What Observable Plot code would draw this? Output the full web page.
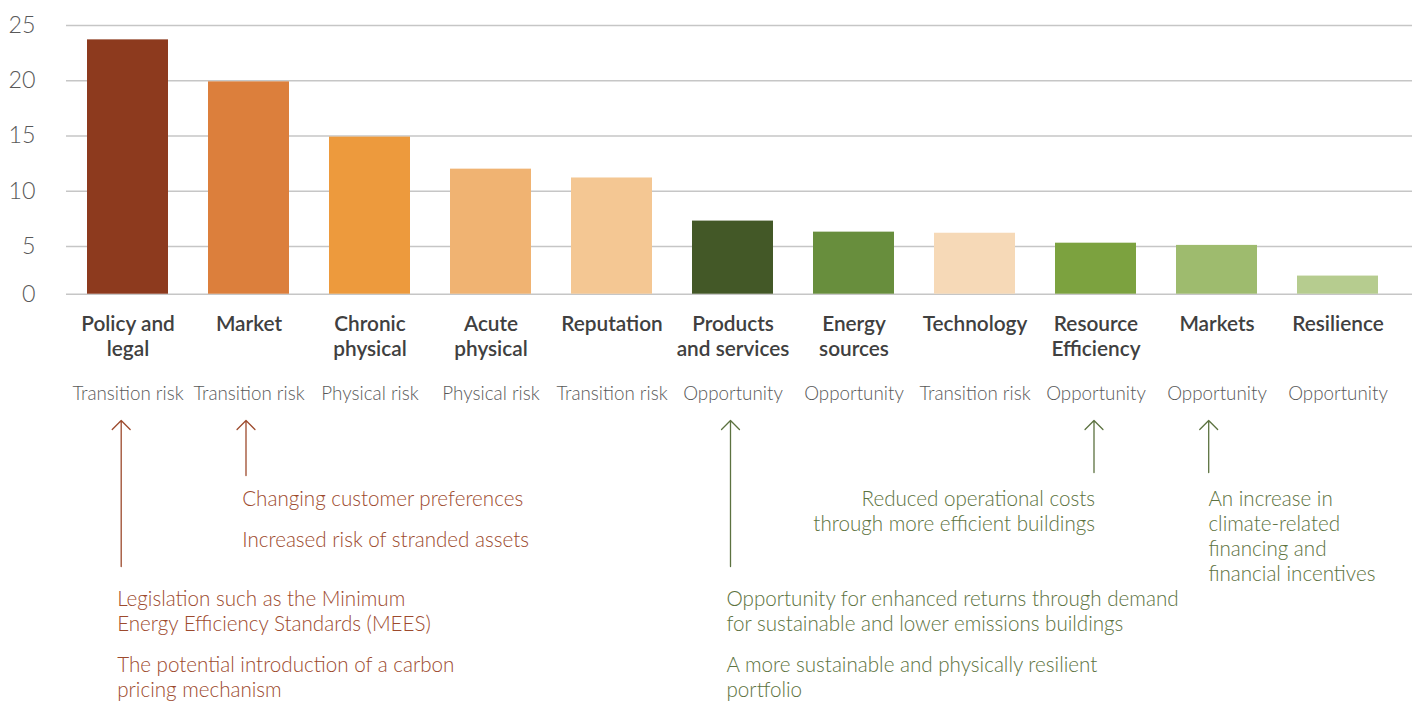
<!DOCTYPE html>
<html><head><meta charset="utf-8">
<script src="https://cdn.jsdelivr.net/npm/d3@7"></script>
<script src="https://cdn.jsdelivr.net/npm/@observablehq/plot@0.6"></script>
<style>body{margin:0;background:#fff;}</style>
</head><body>
<div id="chart"></div>
<script>
// ---- data ----
const categories = ["Policy and\nlegal", "Market", "Chronic\nphysical", "Acute\nphysical", "Reputation",
  "Products\nand services", "Energy\nsources", "Technology", "Resource\nEfficiency", "Markets", "Resilience"];
const values = [23.7, 19.9, 14.9, 12.0, 11.2, 7.3, 6.3, 6.2, 5.3, 5.1, 1.9];
const riskTypes = ["Transition risk", "Transition risk", "Physical risk", "Physical risk", "Transition risk",
  "Opportunity", "Opportunity", "Transition risk", "Opportunity", "Opportunity", "Opportunity"];
const barColors = ["#8d3a1e", "#dc7f3c", "#ed9a3d", "#f0b372", "#f4c793",
  "#435827", "#688e3d", "#f6d9b7", "#7ca23f", "#9ebb6e", "#b6cc8f"];
const yTicks = [0, 5, 10, 15, 20, 25];

const annCategories = ["Policy and\nlegal", "Market", "Products\nand services", "Resource\nEfficiency", "Markets"];
const annKinds = ["risk", "risk", "opportunity", "opportunity", "opportunity"];
const annTexts = [
  ["Legislation such as the Minimum\nEnergy Efficiency Standards (MEES)", "The potential introduction of a carbon\npricing mechanism"],
  ["Changing customer preferences", "Increased risk of stranded assets"],
  ["Opportunity for enhanced returns through demand\nfor sustainable and lower emissions buildings", "A more sustainable and physically resilient\nportfolio"],
  ["Reduced operational costs\nthrough more efficient buildings"],
  ["An increase in\nclimate-related\nfinancing and\nfinancial incentives"]
];

// ---- layout (pixels) ----
const W = 1416, H = 702;
const yDomain = [0, 5, 25];
const yRange = [293.7, 246, 25];
const pxToY = d3.scaleLinear().domain(yRange).range(yDomain); // extrapolates below 0
const kindColor = {risk: "#9d4a2d", opportunity: "#5c7240"};
const annLayout = [
  {arrowDx: -6.8, textDx: -10.8, anchor: "start", arrowBottom: 566, baselines: [605, 671]},
  {arrowDx: -3.0, textDx: -6.8, anchor: "start", arrowBottom: 475, baselines: [505.7, 546]},
  {arrowDx: -2.5, textDx: -6.5, anchor: "start", arrowBottom: 566, baselines: [605, 671]},
  {arrowDx: -2.0, textDx: -1.0, anchor: "end", arrowBottom: 472, baselines: [505.7]},
  {arrowDx: -8.3, textDx: -8.6, anchor: "start", arrowBottom: 472, baselines: [505.7]}
];
const arrowTop = 420;
const annFont = 20.6, annLine = 25;
const catFont = 20.8, catLine = 25;

const bars = categories.map((c, i) => ({category: c, value: values[i], type: riskTypes[i]}));

const marks = [
  Plot.ruleY(yTicks, {y: d => d, stroke: "#c6c6c6", strokeWidth: 1.5}),
  Plot.barY(bars, {x: "category", y: "value", fill: "category"}),
  // y tick labels
  Plot.text(yTicks, {y: d => d, text: d => String(d), frameAnchor: "left", dx: -31, textAnchor: "end",
    fontSize: 23.3, fontWeight: 300, fill: "#595959"}),
  // category labels
  Plot.text(bars, {x: "category", y: () => pxToY(330 - 0.71 * catLine), text: "category",
    lineAnchor: "top", lineHeight: catLine / catFont, fontSize: catFont, fontWeight: 600, fill: "#404040"}),
  // risk type labels
  Plot.text(bars, {x: "category", y: () => pxToY(399.3), text: "type",
    lineAnchor: "bottom", fontSize: 18.8, fontWeight: 300, fill: "#595959"})
];

annCategories.forEach((cat, i) => {
  const L = annLayout[i];
  const col = kindColor[annKinds[i]];
  marks.push(Plot.arrow([cat], {
    x1: d => d, x2: d => d,
    y1: () => pxToY(L.arrowBottom), y2: () => pxToY(arrowTop),
    dx: L.arrowDx, stroke: col, strokeWidth: 1.3, headAngle: 90, headLength: 14.6
  }));
  annTexts[i].forEach((t, j) => {
    marks.push(Plot.text([t], {
      x: () => cat, y: () => pxToY(L.baselines[j] - 0.71 * annLine), text: d => d,
      lineAnchor: "top", lineHeight: annLine / annFont, textAnchor: L.anchor,
      dx: L.textDx, fontSize: annFont, fontWeight: 300, fill: col
    }));
  });
});

const chart = Plot.plot({
  width: W, height: H,
  marginTop: 0, marginBottom: 0, marginLeft: 66, marginRight: 4,
  style: {fontFamily: "Lato, sans-serif", background: "#fff", overflow: "visible"},
  x: {type: "band", domain: categories, range: [66, 1399], paddingInner: 0.3317, paddingOuter: 0.165, axis: null},
  y: {type: "linear", domain: yDomain, range: yRange, axis: null},
  color: {domain: categories, range: barColors},
  marks
});
document.getElementById("chart").appendChild(chart);
</script></body></html>
